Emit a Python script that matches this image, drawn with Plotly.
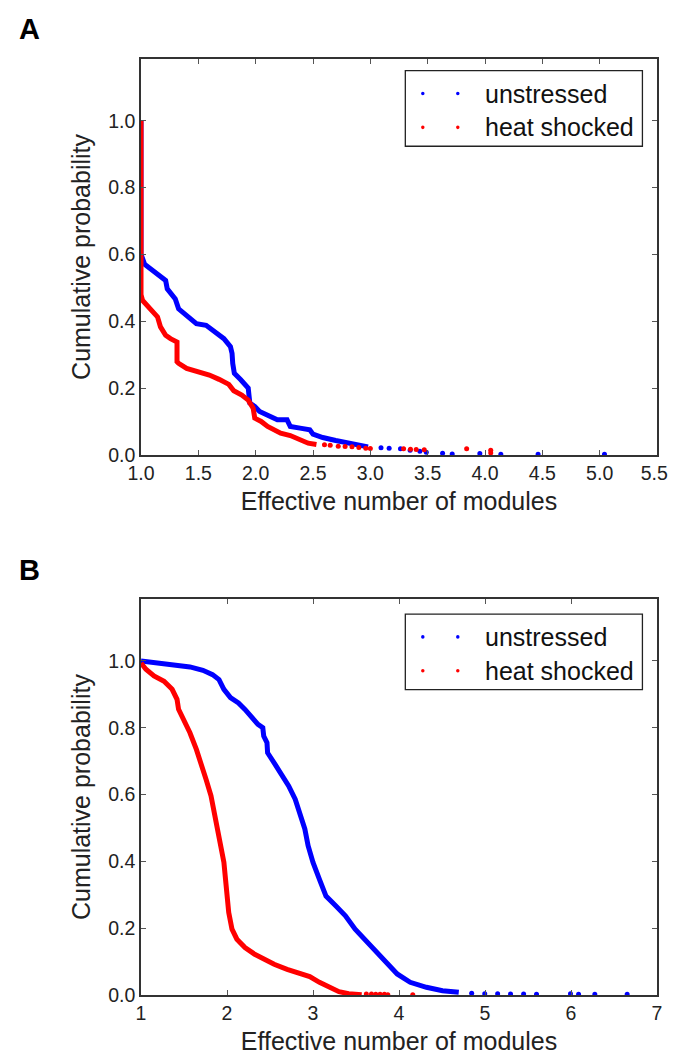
import plotly.graph_objects as go

# ---------------- Panel A data ----------------
a_unst_x = [1.0, 1.0, 1.031, 1.116, 1.215, 1.229, 1.299, 1.328, 1.426, 1.483, 1.568, 1.653, 1.723,
            1.780, 1.794, 1.800, 1.814, 1.870, 1.935, 1.949, 1.992, 2.034, 2.133, 2.189, 2.274,
            2.302, 2.387, 2.472, 2.500, 2.585, 2.698, 2.811, 2.92, 2.98]
a_unst_y = [1.0, 0.601, 0.571, 0.547, 0.522, 0.497, 0.467, 0.437, 0.408, 0.393, 0.388, 0.368, 0.348,
            0.324, 0.304, 0.274, 0.244, 0.225, 0.200, 0.155, 0.145, 0.130, 0.115, 0.105, 0.105,
            0.085, 0.080, 0.075, 0.062, 0.052, 0.043, 0.034, 0.028, 0.024]
a_unst_tail_x = [3.093, 3.164, 3.263, 3.347, 3.432, 3.488, 3.63, 3.714, 3.955, 4.138, 4.463, 5.042]
a_unst_tail_y = [0.021, 0.020, 0.018, 0.014, 0.011, 0.008, 0.005, 0.003, 0.004, 0.002, 0.002, 0.002]

a_heat_x = [1.0, 1.0, 1.014, 1.085, 1.144, 1.170, 1.215, 1.257, 1.314, 1.314, 1.328, 1.398, 1.511,
            1.596, 1.681, 1.766, 1.809, 1.879, 1.935, 1.978, 1.992, 2.048, 2.104, 2.161, 2.218,
            2.302, 2.387, 2.458, 2.53]
a_heat_y = [1.0, 0.480, 0.462, 0.437, 0.413, 0.383, 0.358, 0.348, 0.338, 0.279, 0.274, 0.259, 0.249,
            0.239, 0.226, 0.211, 0.192, 0.179, 0.164, 0.140, 0.110, 0.100, 0.085, 0.075, 0.065,
            0.058, 0.045, 0.035, 0.031]
a_heat_tail_x = [2.60, 2.65, 2.72, 2.78, 2.84, 2.90, 2.96, 3.00, 3.29, 3.35, 3.40, 3.47, 3.84, 4.05, 4.05]
a_heat_tail_y = [0.030, 0.029, 0.026, 0.025, 0.024, 0.022, 0.020, 0.019, 0.018, 0.017, 0.016, 0.015, 0.018, 0.014, 0.006]

# ---------------- Panel B data ----------------
b_unst_x = [1.0, 1.192, 1.381, 1.569, 1.72, 1.832, 1.907, 1.964, 2.04, 2.133, 2.209, 2.284, 2.36,
            2.416, 2.427, 2.465, 2.472, 2.548, 2.623, 2.717, 2.793, 2.849, 2.905, 2.943, 3.0,
            3.075, 3.151, 3.264, 3.377, 3.49, 3.64, 3.753, 3.866, 3.979, 4.13, 4.319, 4.506, 4.695]
b_unst_y = [1.0, 0.994, 0.986, 0.982, 0.972, 0.959, 0.944, 0.915, 0.890, 0.874, 0.855, 0.830, 0.810,
            0.800, 0.775, 0.755, 0.725, 0.695, 0.666, 0.626, 0.586, 0.546, 0.497, 0.447, 0.397,
            0.346, 0.296, 0.267, 0.237, 0.197, 0.157, 0.127, 0.098, 0.063, 0.038, 0.023, 0.013, 0.008]
b_unst_tail_x = [4.845, 4.997, 5.147, 5.297, 5.449, 5.599, 5.994, 6.088, 6.277, 6.653]
b_unst_tail_y = [0.005, 0.004, 0.004, 0.003, 0.003, 0.002, 0.004, 0.002, 0.002, 0.002]

b_heat_x = [1.0, 1.057, 1.151, 1.268, 1.362, 1.419, 1.437, 1.494, 1.569, 1.644, 1.701, 1.757, 1.814,
            1.851, 1.889, 1.926, 1.964, 1.983, 2.002, 2.02, 2.058, 2.115, 2.209, 2.322, 2.435,
            2.548, 2.699, 2.849, 2.962, 3.075, 3.188, 3.302, 3.415, 3.566]
b_heat_y = [0.994, 0.975, 0.955, 0.939, 0.915, 0.885, 0.855, 0.825, 0.785, 0.735, 0.695, 0.645, 0.596,
            0.546, 0.497, 0.447, 0.397, 0.346, 0.296, 0.247, 0.197, 0.167, 0.142, 0.122, 0.107,
            0.092, 0.077, 0.063, 0.055, 0.038, 0.023, 0.010, 0.004, 0.001]
b_heat_tail_x = [3.62, 3.68, 3.73, 3.78, 3.83, 3.87, 4.16]
b_heat_tail_y = [0.003, 0.003, 0.002, 0.002, 0.002, 0.001, 0.001]

x_ticks_a = [1.0, 1.5, 2.0, 2.5, 3.0, 3.5, 4.0, 4.5, 5.0, 5.5]
x_ticks_b = [1, 2, 3, 4, 5, 6, 7]
y_ticks = [0.0, 0.2, 0.4, 0.6, 0.8, 1.0]

series_names = ["unstressed", "heat shocked"]
series_colors = ["#0000ff", "#ff0000"]
panel_letters = ["A", "B"]
FONT = "Liberation Sans, Arial, sans-serif"

W, H = 677, 1055
ML, MR, MT, MB = 133, 13, 51, 63
PW = W - ML - MR
PH = H - MT - MB


def px2x(px):
    return (px - ML) / PW


def px2y(py):
    return (H - MB - py) / PH


fig = go.Figure()


def add_series(xa, ya, lx, ly, tx, ty, color):
    fig.add_trace(go.Scatter(x=lx, y=ly, mode="lines", line=dict(color=color, width=5),
                             xaxis=xa, yaxis=ya, showlegend=False, hoverinfo="skip"))
    fig.add_trace(go.Scatter(x=tx, y=ty, mode="markers", marker=dict(color=color, size=5),
                             xaxis=xa, yaxis=ya, showlegend=False, hoverinfo="skip"))


add_series("x", "y", a_unst_x, a_unst_y, a_unst_tail_x, a_unst_tail_y, series_colors[0])
add_series("x", "y", a_heat_x, a_heat_y, a_heat_tail_x, a_heat_tail_y, series_colors[1])
add_series("x2", "y2", b_unst_x, b_unst_y, b_unst_tail_x, b_unst_tail_y, series_colors[0])
add_series("x2", "y2", b_heat_x, b_heat_y, b_heat_tail_x, b_heat_tail_y, series_colors[1])

axis_common = dict(showline=True, linecolor="#333333", linewidth=1.6, mirror="ticks",
                   ticks="inside", ticklen=5, tickcolor="#555555", tickwidth=1,
                   showgrid=False, zeroline=False,
                   tickfont=dict(family=FONT, size=19.5, color="#222222"))

title_font = dict(family=FONT, size=25, color="#222222")

# x tick labels of panel A; the last one is nudged left so it stays inside the page
x_text_a = [f"{v:.1f}" for v in x_ticks_a]
x_text_a[-1] = x_text_a[-1] + "\u00a0"

shapes = []
annotations = []

# manual legends (box, two dots per entry, label) and panel letters
for top, letter, letter_y in [(62.7, panel_letters[0], 21), (609, panel_letters[1], 565)]:
    shapes.append(dict(type="rect", xref="paper", yref="paper",
                       x0=px2x(405), x1=px2x(649), y0=px2y(top), y1=px2y(top + 76),
                       line=dict(color="#222222", width=1.3), fillcolor="white", layer="above"))
    for i, (nm, col) in enumerate(zip(series_names, series_colors)):
        cy = top + 23 + 34 * i
        for cx in (423, 459):
            shapes.append(dict(type="circle", xref="paper", yref="paper",
                               x0=px2x(cx - 1.8), x1=px2x(cx + 1.8),
                               y0=px2y(cy - 1.8), y1=px2y(cy + 1.8),
                               fillcolor=col, line=dict(width=0), layer="above"))
        annotations.append(dict(text=nm, xref="paper", yref="paper",
                                x=px2x(485), y=px2y(cy), xanchor="left", yanchor="middle",
                                showarrow=False, font=dict(family=FONT, size=25, color="#111111")))
    annotations.append(dict(text=f"<b>{letter}</b>", xref="paper", yref="paper",
                            x=px2x(18.5), y=px2y(letter_y), xanchor="center", yanchor="middle",
                            showarrow=False, font=dict(family=FONT, size=29, color="black")))

fig.update_layout(
    width=W, height=H,
    margin=dict(l=ML, r=MR, t=MT, b=MB),
    paper_bgcolor="white", plot_bgcolor="white",
    showlegend=False,
    xaxis=dict(domain=[0, 1], range=[1, 5.5], tickvals=x_ticks_a,
               ticktext=x_text_a, anchor="y",
               title=dict(text="Effective number of modules", font=title_font, standoff=9),
               **axis_common),
    yaxis=dict(domain=[px2y(449), 1.0], range=[0, 1.185], tickvals=y_ticks,
               ticktext=[f"{v:.1f}" for v in y_ticks], anchor="x",
               title=dict(text="Cumulative probability", font=title_font, standoff=10),
               **axis_common),
    xaxis2=dict(domain=[0, 1], range=[1, 7], tickvals=x_ticks_b,
                ticktext=[str(v) for v in x_ticks_b], anchor="y2",
                title=dict(text="Effective number of modules", font=title_font, standoff=9),
                **axis_common),
    yaxis2=dict(domain=[0, px2y(594)], range=[0, 1.185], tickvals=y_ticks,
                ticktext=[f"{v:.1f}" for v in y_ticks], anchor="x2",
                title=dict(text="Cumulative probability", font=title_font, standoff=10),
                **axis_common),
    shapes=shapes,
    annotations=annotations,
)

fig.write_html("out.html")
